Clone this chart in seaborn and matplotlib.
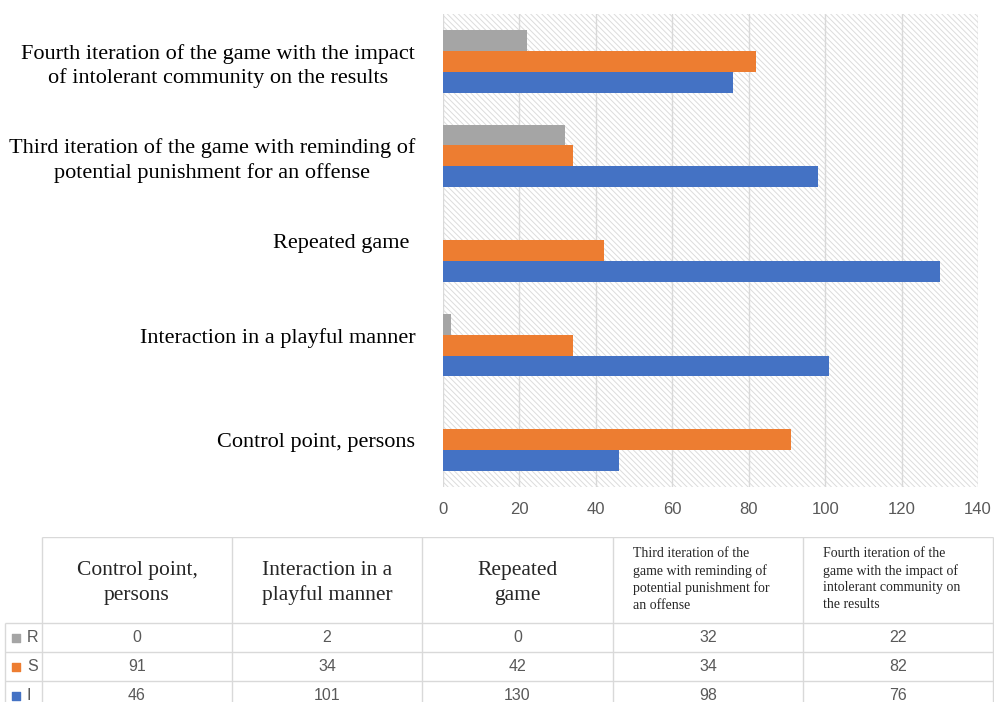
import numpy as np
import pandas as pd
import seaborn as sns
from matplotlib import pyplot as plt
from matplotlib.patches import Rectangle

# data, in table order (left to right)
categories = ['Control point, persons',
              'Interaction in a playful manner',
              'Repeated game',
              'Third iteration of the game with reminding of potential punishment for an offense',
              'Fourth iteration of the game with the impact of intolerant community on the results']
series = ['R', 'S', 'I']
r_vals = [0, 2, 0, 32, 22]
s_vals = [91, 34, 42, 34, 82]
i_vals = [46, 101, 130, 98, 76]

axis_labels = ['Control point, persons',
               'Interaction in a playful manner\n ',
               'Repeated game \n ',
               'Third iteration of the game with reminding of\npotential punishment for an offense',
               'Fourth iteration of the game with the impact\nof intolerant community on the results']
header_labels = ['Control point,\npersons',
                 'Interaction in a\nplayful manner',
                 'Repeated\ngame',
                 'Third iteration of the\ngame with reminding of\npotential punishment for\nan offense',
                 'Fourth iteration of the\ngame with the impact of\nintolerant community on\nthe results']
x_ticks = [0, 20, 40, 60, 80, 100, 120, 140]
colors = {'R': '#A5A5A5', 'S': '#ED7D31', 'I': '#4472C4'}

sns.set_style('white')
plt.rcParams['hatch.color'] = '#dcdcdc'
plt.rcParams['hatch.linewidth'] = 0.7

rows = []
for name, vals in zip(series, [r_vals, s_vals, i_vals]):
	for c, v in zip(categories, vals):
		rows.append((c, name, v))
df = pd.DataFrame(rows, columns=['category', 'series', 'value'])

fig = plt.figure(figsize=(9.95, 7.02), dpi=100)
ax = fig.add_axes([443/995., 1-487/702., 535/995., 473/702.])

# hatched plot area
ax.add_patch(Rectangle((0, 0), 1, 1, transform=ax.transAxes, facecolor='white',
                       edgecolor='#dcdcdc', hatch='\\\\\\\\\\\\', lw=0, zorder=0))

sns.barplot(data=df, x='value', y='category', hue='series', order=categories[::-1],
            hue_order=series, palette=colors, width=0.66, orient='h', saturation=1,
            linewidth=0, legend=False, ax=ax)

ax.set_xlim(0, 140)
ax.set_ylim(4.5, -0.5)
ax.set_xticks(x_ticks)
ax.set_xticklabels([str(t) for t in x_ticks], fontfamily='Liberation Sans', fontsize=12, color='#595959')
ax.set_yticks(range(len(categories)))
ax.set_yticklabels(axis_labels[::-1], fontfamily='Liberation Serif', fontsize=16,
                   multialignment='center', color='black', linespacing=1.3)
ax.tick_params(axis='both', length=0)
ax.tick_params(axis='x', pad=11)
ax.tick_params(axis='y', pad=20)
ax.set_xlabel('')
ax.set_ylabel('')
ax.set_axisbelow(True)
ax.grid(axis='x', color='#d9d9d9', lw=1)
ax.grid(axis='y', visible=False)
for s in ax.spines.values():
	s.set_visible(False)

# data table under the chart
tax = fig.add_axes([0, -8/702., 1, (702-537+8)/702.])
tax.set_xlim(0, 995)
tax.set_ylim(710, 537)
tax.axis('off')

col_edges = [42, 232, 422, 613, 803, 993]
row_edges = [537, 623, 652, 681, 710]
line_c = '#d9d9d9'
tax.hlines(row_edges[0], 42, 993, color=line_c, lw=1)
tax.hlines(row_edges[1:4], 5, 993, color=line_c, lw=1)
tax.vlines(col_edges, 537, 710, color=line_c, lw=1)
tax.vlines(5, 623, 710, color=line_c, lw=1)

for j, lab in enumerate(header_labels):
	left, right = col_edges[j], col_edges[j+1]
	if j < 3:
		tax.text((left+right)/2., 583, lab, ha='center', va='center', fontfamily='Liberation Serif',
		         fontsize=15.5, linespacing=1.4)
	else:
		tax.text(left+20, 547, lab, ha='left', va='top', fontfamily='Liberation Serif',
		         fontsize=10, linespacing=1.35)

for k, (name, vals) in enumerate(zip(series, [r_vals, s_vals, i_vals])):
	yc = (row_edges[k+1] + row_edges[k+2]) / 2.
	tax.scatter([16], [yc], marker='s', s=40, color=colors[name], clip_on=False)
	tax.text(27, yc, name, ha='left', va='center', fontfamily='Liberation Sans', fontsize=11.5, color='#595959')
	for j, v in enumerate(vals):
		tax.text((col_edges[j]+col_edges[j+1])/2., yc, str(v), ha='center', va='center',
		         fontfamily='Liberation Sans', fontsize=11.5, color='#595959')

plt.savefig('out.png', dpi=100)
